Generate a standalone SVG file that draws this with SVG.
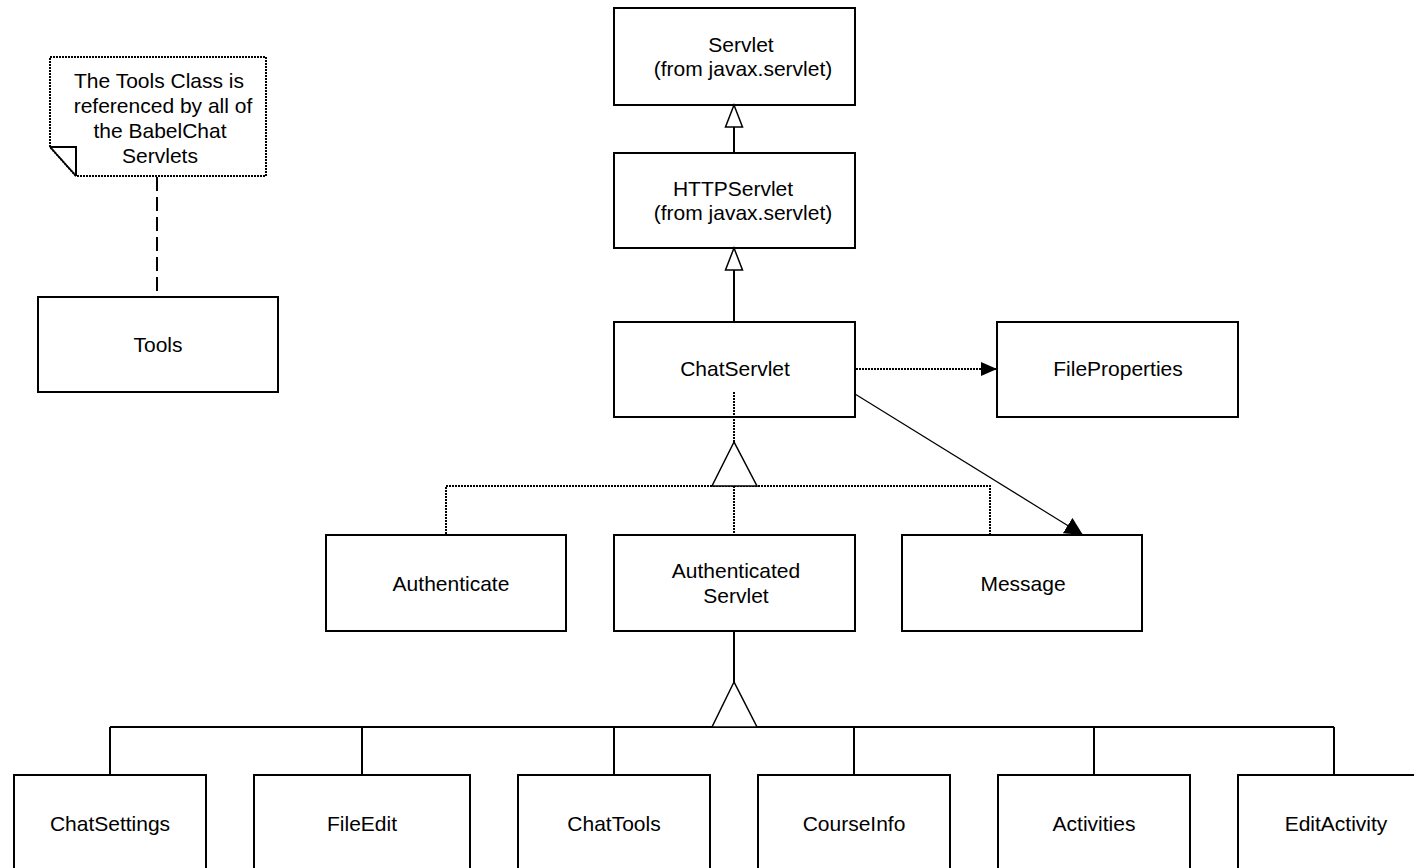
<svg xmlns="http://www.w3.org/2000/svg" width="1414" height="868" viewBox="0 0 1414 868">
<style>
.box{fill:#fff;stroke:#000;stroke-width:2}
.t{font-family:"Liberation Sans",Arial,sans-serif;font-size:21px;fill:#000;text-anchor:middle;dominant-baseline:central}
.solid{fill:none;stroke:#000;stroke-width:2}
.dot{fill:none;stroke:#000;stroke-width:2;stroke-dasharray:2 1}
.thin{fill:none;stroke:#000;stroke-width:1.2}
.tri{fill:#fff;stroke:#000;stroke-width:1.5}
</style>
<defs>
<marker id="arr" viewBox="0 0 16 14" refX="16" refY="7" markerWidth="16" markerHeight="14" markerUnits="userSpaceOnUse" orient="auto">
<path d="M0,0 L16,7 L0,14 Z" fill="#000"/>
</marker>
<marker id="arr2" viewBox="0 0 18 18" refX="18" refY="9" markerWidth="18" markerHeight="18" markerUnits="userSpaceOnUse" orient="auto">
<path d="M0,0 L18,9 L0,18 Z" fill="#000"/>
</marker>
</defs>
<rect width="1414" height="868" fill="#fff"/>
<g id="note">
<path d="M50,57 L266,57 L266,176 L76,176 L50,147 Z" fill="#fff" stroke="#000" stroke-width="2" stroke-dasharray="2 1"/>
<path d="M50,147 L76,147 L76,176" fill="none" stroke="#000" stroke-width="2"/>
<line x1="50" y1="147" x2="76" y2="176" stroke="#000" stroke-width="1.5"/>
<text class="t" x="159" y="80">The Tools Class is</text>
<text class="t" x="163" y="105">referenced by all of</text>
<text class="t" x="160" y="130">the BabelChat</text>
<text class="t" x="160" y="155">Servlets</text>
</g>
<g id="tools"><rect class="box" x="38" y="297" width="240" height="95"/><text class="t" x="158" y="344">Tools</text></g>
<g id="servlet"><rect class="box" x="614" y="8" width="241" height="97"/><text class="t" x="741" y="44">Servlet</text><text class="t" x="743" y="68">(from javax.servlet)</text></g>
<g id="httpservlet"><rect class="box" x="614" y="153" width="241" height="95"/><text class="t" x="733" y="188">HTTPServlet</text><text class="t" x="743" y="212">(from javax.servlet)</text></g>
<g id="chatservlet"><rect class="box" x="614" y="322" width="241" height="95"/><text class="t" x="735" y="368">ChatServlet</text></g>
<g id="fileproperties"><rect class="box" x="997" y="322" width="241" height="95"/><text class="t" x="1118" y="368">FileProperties</text></g>
<g id="authenticate"><rect class="box" x="326" y="535" width="240" height="96"/><text class="t" x="451" y="583">Authenticate</text></g>
<g id="authenticatedservlet"><rect class="box" x="614" y="535" width="241" height="96"/><text class="t" x="736" y="570">Authenticated</text><text class="t" x="736" y="595">Servlet</text></g>
<g id="message"><rect class="box" x="902" y="535" width="240" height="96"/><text class="t" x="1023" y="583">Message</text></g>
<g id="chatsettings"><rect class="box" x="14" y="775" width="192" height="96"/><text class="t" x="110" y="823">ChatSettings</text></g>
<g id="fileedit"><rect class="box" x="254" y="775" width="216" height="96"/><text class="t" x="362" y="823">FileEdit</text></g>
<g id="chattools"><rect class="box" x="518" y="775" width="192" height="96"/><text class="t" x="614" y="823">ChatTools</text></g>
<g id="courseinfo"><rect class="box" x="758" y="775" width="192" height="96"/><text class="t" x="854" y="823">CourseInfo</text></g>
<g id="activities"><rect class="box" x="998" y="775" width="192" height="96"/><text class="t" x="1094" y="823">Activities</text></g>
<g id="editactivity"><rect class="box" x="1238" y="775" width="192" height="96"/><text class="t" x="1336" y="823">EditActivity</text></g>
<g id="connectors">
<line class="solid" x1="734" y1="127" x2="734" y2="153"/>
<polygon class="tri" points="734,105 725.5,127 742.5,127"/>
<line class="solid" x1="734" y1="270" x2="734" y2="322"/>
<polygon class="tri" points="734,248 725.5,270 742.5,270"/>
<line class="dot" x1="856" y1="369" x2="997" y2="369" marker-end="url(#arr)"/>
<line class="thin" x1="855" y1="394" x2="1083" y2="535" marker-end="url(#arr2)"/>
<line class="dot" x1="734" y1="392" x2="734" y2="442"/>
<polyline class="dot" points="446,534 446,486 990,486 990,534"/>
<line class="dot" x1="734" y1="486" x2="734" y2="534"/>
<polygon class="tri" points="734,442 712,486 757,486"/>
<line class="solid" x1="734" y1="632" x2="734" y2="682"/>
<line class="solid" x1="110" y1="727" x2="1334" y2="727"/>
<polygon class="tri" points="734,682 712,727 757,727"/>
<line class="solid" x1="110" y1="727" x2="110" y2="774"/>
<line class="solid" x1="362" y1="727" x2="362" y2="774"/>
<line class="solid" x1="614" y1="727" x2="614" y2="774"/>
<line class="solid" x1="854" y1="727" x2="854" y2="774"/>
<line class="solid" x1="1094" y1="727" x2="1094" y2="774"/>
<line class="solid" x1="1334" y1="727" x2="1334" y2="774"/>
<line fill="none" stroke="#000" stroke-width="2" stroke-dasharray="14 6" x1="157" y1="177" x2="157" y2="296"/>
</g>
</svg>
